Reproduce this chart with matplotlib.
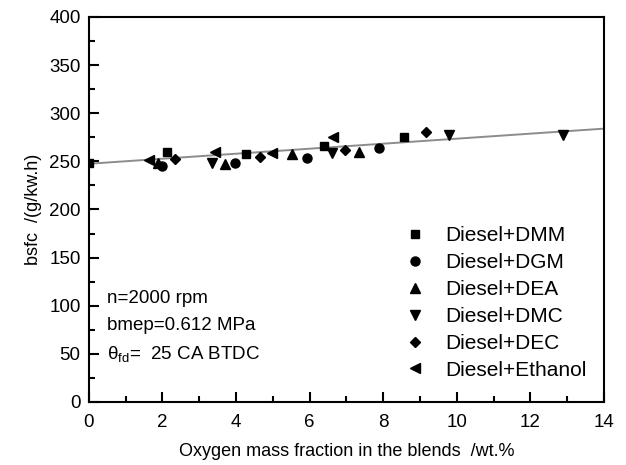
"""Brake specific fuel consumption vs oxygen mass fraction of the blends."""

import matplotlib

matplotlib.use("Agg")
import matplotlib.pyplot as plt
from matplotlib.ticker import MultipleLocator

plt.rcParams["font.family"] = ["Liberation Sans", "DejaVu Sans"]
plt.rcParams["mathtext.default"] = "regular"

dmm_x = [0.0, 2.13, 4.28, 6.40, 8.57]
dmm_y = [248, 260, 258, 266, 275]
dgm_x = [2.0, 3.97, 5.94, 7.88]
dgm_y = [245, 248, 253, 263.5]
dea_x = [1.88, 3.71, 5.53, 7.33]
dea_y = [248, 247, 258, 260]
dmc_x = [3.35, 6.60, 9.79, 12.87]
dmc_y = [248, 259, 277, 277]
dec_x = [2.35, 4.66, 6.95, 9.16]
dec_y = [252, 255, 262, 280]
eth_x = [1.64, 3.42, 4.98, 6.63]
eth_y = [251, 260, 259, 275]

fit_x = [0, 14]
fit_y = [247.5, 284]

series = [
    ("Diesel+DMM", dmm_x, dmm_y, "s", 6),
    ("Diesel+DGM", dgm_x, dgm_y, "o", 6.5),
    ("Diesel+DEA", dea_x, dea_y, "^", 7),
    ("Diesel+DMC", dmc_x, dmc_y, "v", 7),
    ("Diesel+DEC", dec_x, dec_y, "D", 5.5),
    ("Diesel+Ethanol", eth_x, eth_y, "<", 7),
]

fig = plt.figure(figsize=(6.26, 4.65), dpi=100)
ax = fig.add_axes([0.142, 0.1355, 0.823, 0.828])

ax.plot(fit_x, fit_y, color="#8c8c8c", lw=1.4, zorder=1)
for name, xs, ys, m, ms in series:
    ax.plot(xs, ys, ls="none", marker=m, ms=ms, color="black", label=name, zorder=2)

ax.set_xlim(0, 14)
ax.set_ylim(0, 400)
ax.xaxis.set_major_locator(MultipleLocator(2))
ax.xaxis.set_minor_locator(MultipleLocator(1))
ax.yaxis.set_major_locator(MultipleLocator(50))
ax.yaxis.set_minor_locator(MultipleLocator(25))
ax.tick_params(which="both", direction="in", top=False, right=False,
               labelsize=13.5, width=1.5)
ax.tick_params(which="major", length=7)
ax.tick_params(which="minor", length=4)
ax.tick_params(axis="x", which="major", pad=9)
ax.tick_params(axis="y", which="major", pad=6)
for sp in ax.spines.values():
    sp.set_linewidth(1.5)

ax.set_xlabel("Oxygen mass fraction in the blends  /wt.%", fontsize=13, labelpad=8)
ax.set_ylabel("bsfc  /(g/kw.h)", fontsize=13, labelpad=5)

ax.text(0.035, 0.257, "n=2000 rpm", transform=ax.transAxes, fontsize=13.5)
ax.text(0.035, 0.187, "bmep=0.612 MPa", transform=ax.transAxes, fontsize=13.5)
ax.text(0.035, 0.112, "θ$_{fd}$=  25 CA BTDC", transform=ax.transAxes, fontsize=13.5)

ax.legend(loc="lower right", frameon=False, fontsize=15, handletextpad=0.85,
          labelspacing=0.38, borderaxespad=0.3, handlelength=1.2,
          bbox_to_anchor=(0.995, 0.02))

fig.savefig("out.png", dpi=100)
plt.close(fig)
